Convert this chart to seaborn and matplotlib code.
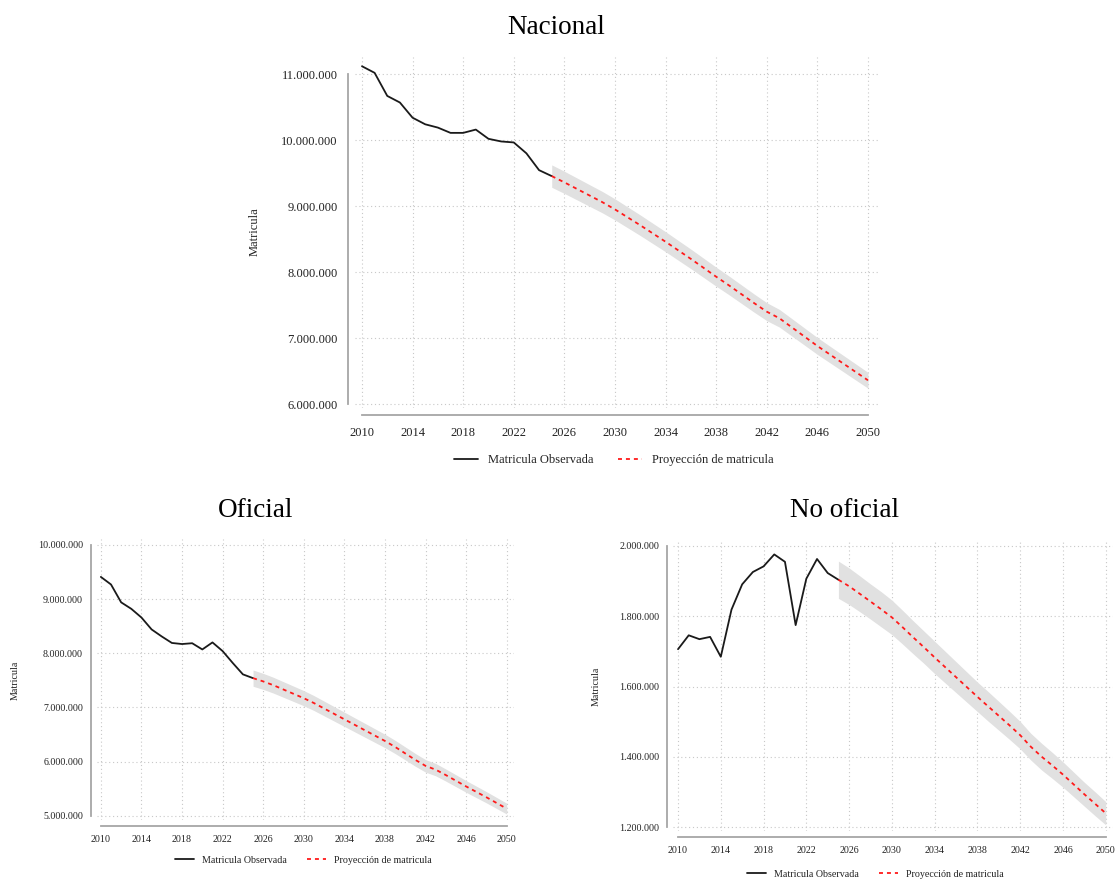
import numpy as np
import pandas as pd
import matplotlib
matplotlib.use("Agg")
import matplotlib.pyplot as plt
from matplotlib.ticker import FuncFormatter
import seaborn as sns

sns.set_style("white")
plt.rcParams['font.family'] = ['Liberation Serif', 'DejaVu Serif']

# ---------------- data (millions) ----------------
years_obs = list(range(2010, 2026))
years_proj = list(range(2025, 2051))

nac_obs = [11.12, 11.02, 10.67, 10.57, 10.34, 10.24, 10.19, 10.11, 10.11, 10.16,
           10.02, 9.98, 9.965, 9.80, 9.545, 9.455]
nac_proj = [9.455, 9.36, 9.26, 9.16, 9.06, 8.95, 8.83, 8.71, 8.585, 8.46, 8.33, 8.20,
            8.065, 7.93, 7.80, 7.665, 7.53, 7.40, 7.30, 7.16, 7.02, 6.88, 6.75, 6.62,
            6.49, 6.36]
nac_hw = [0.170, 0.168, 0.166, 0.164, 0.162, 0.160, 0.158, 0.156, 0.154, 0.152, 0.150,
          0.148, 0.146, 0.144, 0.142, 0.140, 0.138, 0.136, 0.134, 0.132, 0.130, 0.128,
          0.126, 0.124, 0.122, 0.120]

ofi_obs = [9.41, 9.27, 8.94, 8.82, 8.66, 8.44, 8.31, 8.19, 8.17, 8.185, 8.07, 8.20,
           8.04, 7.82, 7.61, 7.54]
ofi_proj = [7.54, 7.48, 7.41, 7.33, 7.25, 7.17, 7.08, 6.98, 6.88, 6.78, 6.68, 6.58,
            6.48, 6.38, 6.27, 6.15, 6.03, 5.92, 5.85, 5.75, 5.645, 5.54, 5.44, 5.34,
            5.235, 5.13]
ofi_hw = [0.150, 0.148, 0.146, 0.144, 0.142, 0.140, 0.138, 0.136, 0.134, 0.132, 0.130,
          0.128, 0.126, 0.124, 0.122, 0.120, 0.118, 0.116, 0.114, 0.112, 0.110, 0.108,
          0.106, 0.104, 0.102, 0.100]

nof_obs = [1.7065, 1.746, 1.735, 1.7415, 1.685, 1.819, 1.891, 1.926, 1.942, 1.976,
           1.955, 1.775, 1.907, 1.963, 1.923, 1.904]
nof_proj = [1.904, 1.8855, 1.864, 1.842, 1.820, 1.797, 1.769, 1.740, 1.712, 1.683,
            1.655, 1.627, 1.599, 1.571, 1.544, 1.517, 1.490, 1.462, 1.429, 1.401,
            1.376, 1.350, 1.322, 1.294, 1.267, 1.240]
nof_hw = [0.053, 0.052, 0.051, 0.050, 0.050, 0.049, 0.048, 0.047, 0.046, 0.046, 0.045,
          0.044, 0.043, 0.042, 0.042, 0.041, 0.040, 0.039, 0.038, 0.038, 0.037, 0.036,
          0.035, 0.034, 0.034, 0.033]

x_ticks = list(range(2010, 2051, 4))
titles = ["Nacional", "Oficial", "No oficial"]
legend_labels = ["Matricula Observada", "Proyección de matricula"]
ylabel = "Matricula"

W, H = 1118, 880
fig = plt.figure(figsize=(W / 100, H / 100), dpi=100)

def fmt(v, pos):
    return f"{v:,.0f}".replace(",", ".")

def panel(rect_px, xlim, ylim, yticks, obs, proj, hw, fs, tick_len, off,
          title_xy, title, ylab_xy, leg_xy):
    l, t, r, b = rect_px
    ax = fig.add_axes([l / W, 1 - b / H, (r - l) / W, (b - t) / H])
    o = np.array(obs) * 1e6
    p = np.array(proj) * 1e6
    h = np.array(hw) * 1e6
    ax.fill_between(years_proj, p - h, p + h, color="#e1e1e1", lw=0, zorder=1)
    sns.lineplot(x=years_obs, y=o, ax=ax, color="#1a1a1a", lw=1.3, zorder=3,
                 label=legend_labels[0])
    sns.lineplot(x=years_proj, y=p, ax=ax, color="#ff1a1a", lw=1.3, zorder=4,
                 linestyle=(0, (2.2, 2.2)), label=legend_labels[1])
    ax.set_xlim(*xlim)
    ax.set_ylim(*ylim)
    ax.set_xticks(x_ticks)
    ax.set_yticks(yticks)
    ax.yaxis.set_major_formatter(FuncFormatter(fmt))
    ax.grid(True, linestyle=(0, (1, 2.5)), color="#c8c8c8", lw=0.8, zorder=0)
    for s in ["top", "right"]:
        ax.spines[s].set_visible(False)
    for s in ["left", "bottom"]:
        ax.spines[s].set_position(("outward", off))
        ax.spines[s].set_color("#a6a6a6")
        ax.spines[s].set_linewidth(1.3)
    ax.spines["left"].set_bounds(yticks[0], yticks[-1])
    ax.spines["bottom"].set_bounds(2010, 2050)
    ax.tick_params(axis="both", direction="out", length=tick_len, width=1.0,
                   color="#a6a6a6", labelsize=fs, pad=2, labelcolor="#222222")
    ax.tick_params(axis="x", pad=3)
    ax.set_xlabel("")
    ax.set_ylabel("")
    handles = ax.get_lines()[:2]
    ax.legend_.remove() if ax.legend_ else None
    fig.legend(handles, legend_labels, loc="center",
               bbox_to_anchor=(leg_xy[0] / W, 1 - leg_xy[1] / H),
               ncol=2, frameon=False, fontsize=fs, handlelength=1.9,
               handletextpad=0.8, columnspacing=2.0, labelcolor="#222222")
    fig.text(title_xy[0] / W, 1 - title_xy[1] / H, title, ha="center",
             va="center", fontsize=19.5, color="black")
    fig.text(ylab_xy[0] / W, 1 - ylab_xy[1] / H, ylabel, rotation=90,
             ha="center", va="center", fontsize=fs, color="#222222")
    return ax

# Nacional
panel((355, 57, 880, 408), (2009.45, 2050.95), (5.94e6, 11.26e6),
      [6e6, 7e6, 8e6, 9e6, 10e6, 11e6], nac_obs, nac_proj, nac_hw,
      9, 5.5, 5, (556, 27), titles[0], (255, 232), (614, 460))

# Oficial
panel((97, 539, 514, 820), (2009.62, 2050.72), (4.92e6, 10.11e6),
      [5e6, 6e6, 7e6, 8e6, 9e6, 10e6], ofi_obs, ofi_proj, ofi_hw,
      7.2, 4, 4, (256, 510), titles[1], (15, 680), (303, 860))

# No oficial
panel((673, 540, 1113, 831), (2009.53, 2050.68), (1.1895e6, 2.017e6),
      [1.2e6, 1.4e6, 1.6e6, 1.8e6, 2.0e6], nof_obs, nof_proj, nof_hw,
      7.2, 4, 4, (845, 510), titles[2], (596, 686), (875, 874))

fig.savefig("out.png", dpi=100, facecolor="white")
